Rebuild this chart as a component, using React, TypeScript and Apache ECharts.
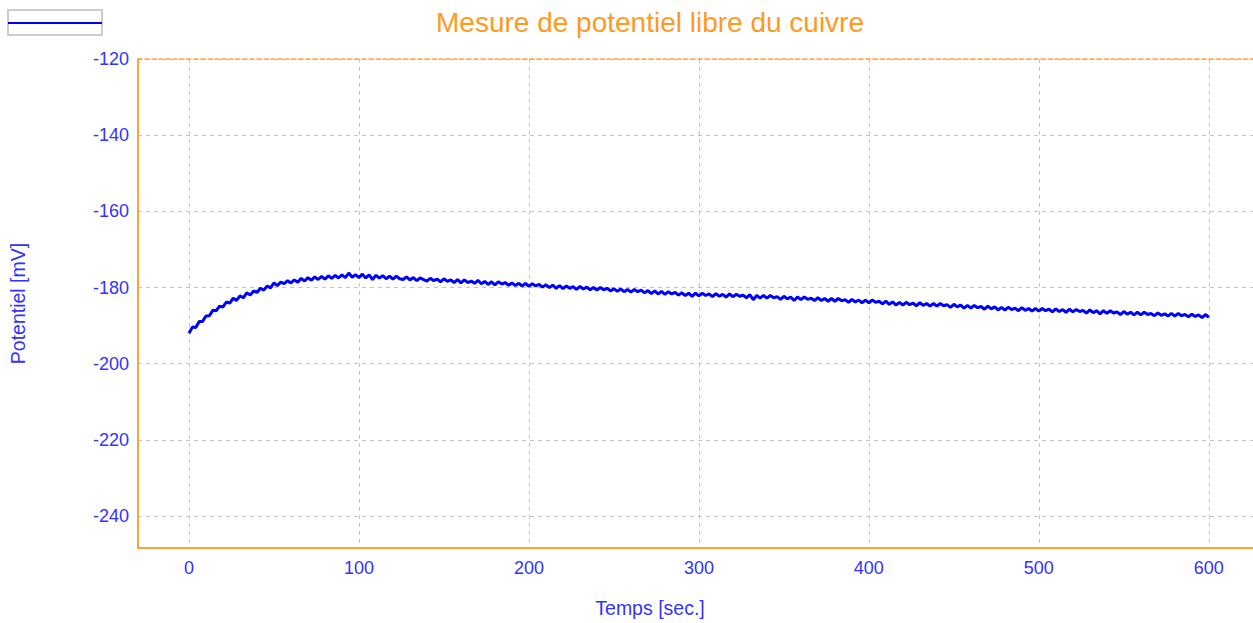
import React, { useEffect, useRef } from "react";
import * as echarts from "echarts";

const CHART_TITLE = "Mesure de potentiel libre du cuivre";
const X_AXIS_TITLE = "Temps [sec.]";
const Y_AXIS_TITLE = "Potentiel [mV]";

const X_TICKS = [0, 100, 200, 300, 400, 500, 600];
const Y_TICKS = [-240, -220, -200, -180, -160, -140, -120];

const SAMPLE_START_S = 0;
const SAMPLE_STEP_S = 2;

// Potential readings (mV), one every 2 s from t = 0 to t = 600 s
const POTENTIAL_MV = [
  -192.0, -190.4, -190.5, -188.9, -188.9, -187.5, -187.4, -186.0, -186.1, -184.9,
  -185.1, -183.8, -184.1, -182.8, -183.4, -182.2, -182.7, -181.4, -182.0, -180.9,
  -181.3, -180.2, -180.7, -179.6, -180.1, -178.8, -179.5, -178.6, -179.0, -178.2,
  -178.8, -178.0, -178.6, -177.6, -178.3, -177.4, -178.1, -177.2, -177.9, -177.1,
  -177.8, -176.9, -177.6, -176.8, -177.5, -176.7, -177.4, -176.2, -177.3, -176.6,
  -177.4, -176.5, -177.5, -176.7, -177.9, -176.8, -177.5, -176.9, -177.7, -177.0,
  -177.8, -177.0, -177.7, -177.9, -177.2, -178.0, -177.4, -178.2, -177.5, -177.9,
  -178.3, -177.6, -178.2, -177.8, -178.5, -177.7, -178.4, -178.0, -178.7, -177.9,
  -178.8, -178.0, -178.7, -178.3, -178.9, -178.1, -179.0, -178.4, -179.2, -178.5,
  -179.3, -178.5, -179.1, -178.7, -179.4, -178.8, -179.5, -178.9, -179.6, -178.9,
  -179.7, -179.0, -179.6, -179.2, -179.9, -179.3, -180.0, -179.4, -180.2, -179.5,
  -180.3, -179.6, -180.2, -179.8, -180.5, -179.7, -180.4, -179.9, -180.6, -180.0,
  -180.7, -180.0, -180.6, -180.2, -180.9, -180.3, -181.0, -180.4, -181.1, -180.5,
  -181.2, -180.5, -181.1, -180.7, -181.4, -180.8, -181.6, -180.9, -181.7, -181.0,
  -181.8, -181.1, -181.7, -181.3, -182.0, -181.4, -182.1, -181.5, -182.3, -181.5,
  -182.2, -181.5, -182.1, -181.7, -182.4, -181.6, -182.3, -181.8, -182.5, -181.7,
  -182.4, -181.8, -182.3, -182.0, -182.7, -181.9, -183.2, -182.1, -182.8, -182.1,
  -182.8, -182.1, -182.7, -182.4, -183.1, -182.3, -183.0, -182.5, -183.4, -182.5,
  -183.2, -182.5, -183.1, -182.8, -183.4, -182.7, -183.4, -182.9, -183.6, -182.9,
  -183.6, -182.9, -183.5, -183.2, -183.9, -183.1, -183.8, -183.3, -184.0, -183.3,
  -184.0, -183.3, -183.9, -183.6, -184.3, -183.6, -184.4, -183.8, -184.6, -183.9,
  -184.6, -183.9, -184.5, -184.1, -184.8, -184.0, -184.7, -184.2, -184.9, -184.2,
  -184.9, -184.2, -184.8, -184.5, -185.2, -184.4, -185.1, -184.6, -185.4, -184.7,
  -185.4, -184.7, -185.3, -185.0, -185.7, -184.9, -185.6, -185.1, -185.9, -185.2,
  -185.9, -185.2, -185.8, -185.4, -186.1, -185.3, -186.0, -185.5, -186.2, -185.5,
  -186.2, -185.5, -186.1, -185.7, -186.4, -185.6, -186.3, -185.8, -186.5, -185.7,
  -186.4, -185.8, -186.3, -186.0, -186.7, -185.9, -186.6, -186.1, -186.9, -186.1,
  -186.8, -186.1, -186.7, -186.4, -187.1, -186.3, -187.0, -186.5, -187.2, -186.5,
  -187.2, -186.5, -187.1, -186.8, -187.4, -186.7, -187.3, -186.9, -187.5, -186.8,
  -187.5, -186.8, -187.4, -187.1, -187.7, -187.0, -187.6, -187.2, -187.9, -187.1,
  -187.8,
];

const FONT = '"Liberation Sans", Arial, sans-serif';
const TEXT_BLUE = "#3333ff";
const ORANGE = "#ffa33a";
const TITLE_ORANGE = "#ff9a1f";
const GRID_GRAY = "#c4c4c4";

export default function App() {
  const ref = useRef<HTMLDivElement | null>(null);

  useEffect(() => {
    if (!ref.current) return;
    const chart = echarts.init(ref.current, undefined, { renderer: "svg" });
    const seriesData = POTENTIAL_MV.map((v, i) => [SAMPLE_START_S + i * SAMPLE_STEP_S, v]);

    chart.setOption({
      animation: false,
      backgroundColor: "#ffffff",
      title: {
        text: CHART_TITLE,
        left: 645,
        top: 3,
        textAlign: "center",
        textStyle: { fontSize: 28, fontWeight: "normal", color: TITLE_ORANGE, fontFamily: FONT },
      },
      grid: { left: 138, right: 0, top: 59, bottom: 75, containLabel: false, outerBoundsMode: "none" },
      xAxis: [
        {
          type: "value",
          min: -30,
          max: 626,
          position: "bottom",
          axisLine: { show: true, onZero: false, lineStyle: { color: ORANGE, width: 2 } },
          axisTick: { show: false, customValues: X_TICKS },
          axisLabel: { customValues: X_TICKS, color: TEXT_BLUE, fontSize: 18, margin: 11, fontFamily: FONT },
          splitLine: { show: true, lineStyle: { color: GRID_GRAY, type: [4, 4], width: 1 } },
        },
        {
          type: "value",
          min: -30,
          max: 626,
          position: "top",
          axisLine: { show: true, onZero: false, lineStyle: { color: ORANGE, width: 1.5, type: [4, 3] } },
          axisTick: { show: false },
          axisLabel: { show: false },
          splitLine: { show: false },
        },
      ],
      yAxis: {
        type: "value",
        min: -248.4,
        max: -120,
        name: Y_AXIS_TITLE,
        nameLocation: "middle",
        nameGap: 110,
        nameTextStyle: { color: TEXT_BLUE, fontSize: 19.5, fontFamily: FONT },
        axisLine: { show: true, onZero: false, lineStyle: { color: ORANGE, width: 2 } },
        axisTick: { show: false, customValues: Y_TICKS },
        axisLabel: { customValues: Y_TICKS, color: TEXT_BLUE, fontSize: 18, margin: 9, fontFamily: FONT },
        splitLine: { show: true, lineStyle: { color: GRID_GRAY, type: [4, 4], width: 1 } },
      },
      graphic: [
        {
          type: "rect",
          shape: { x: 8, y: 10, width: 94, height: 25 },
          style: { fill: "#ffffff", stroke: "#cccccc", lineWidth: 2 },
        },
        {
          type: "line",
          shape: { x1: 8, y1: 23, x2: 102, y2: 23 },
          style: { stroke: "#0000ff", lineWidth: 2 },
        },
        {
          type: "text",
          x: 650,
          y: 608,
          style: {
            text: X_AXIS_TITLE,
            fill: TEXT_BLUE,
            fontSize: 19.5,
            fontFamily: FONT,
            align: "center",
            verticalAlign: "middle",
          },
        },
      ],
      series: [
        {
          type: "line",
          data: seriesData,
          showSymbol: false,
          symbol: "none",
          lineStyle: { color: "#0000ff", width: 3 },
          xAxisIndex: 0,
        },
      ],
    });

    return () => chart.dispose();
  }, []);

  return (
    <div
      ref={ref}
      style={{ position: "fixed", left: 0, top: 0, width: 1253, height: 623, background: "#fff" }}
    />
  );
}
